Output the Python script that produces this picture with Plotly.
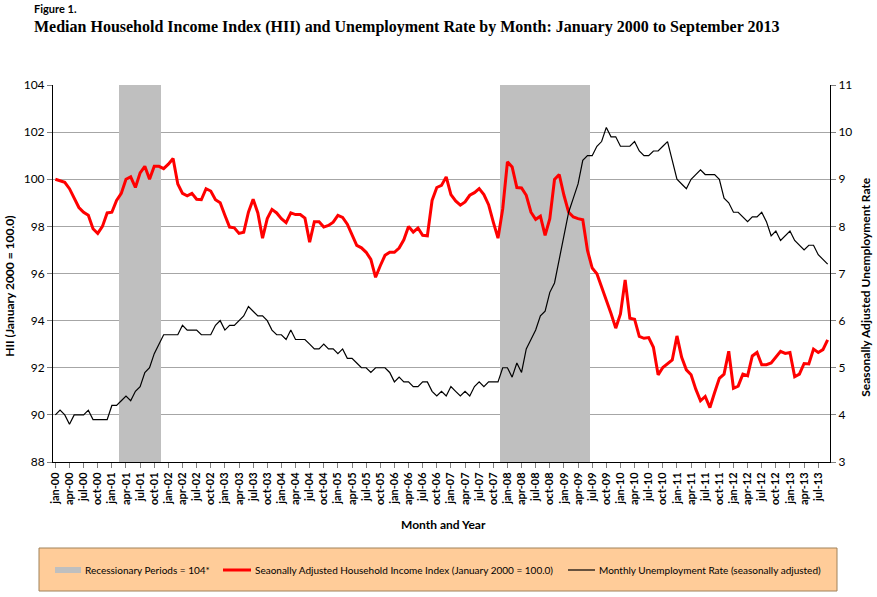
import plotly.graph_objects as go

months = ["jan", "feb", "mar", "apr", "may", "jun", "jul", "aug", "sep", "oct", "nov", "dec"]
labels = [f"{m}-{y:02d}" for y in range(0, 14) for m in months][:165]

hii = [
    100.0, 99.95, 99.87, 99.6, 99.2, 98.8, 98.6, 98.47, 97.9, 97.7, 98.0, 98.57,
    98.6, 99.1, 99.4, 100.0, 100.1, 99.65, 100.27, 100.55, 100.0, 100.55, 100.55, 100.45,
    100.64, 100.88, 99.8, 99.4, 99.3, 99.4, 99.15, 99.13, 99.6, 99.5, 99.13, 99.0,
    98.47, 97.97, 97.94, 97.7, 97.75, 98.6, 99.15, 98.57, 97.5, 98.33, 98.72, 98.57,
    98.33, 98.16, 98.57, 98.5, 98.5, 98.35, 97.33, 98.2, 98.2, 97.97, 98.04, 98.18,
    98.47, 98.38, 98.09, 97.62, 97.19, 97.09, 96.9, 96.6, 95.84, 96.33, 96.77, 96.9,
    96.9, 97.08, 97.43, 98.0, 97.76, 97.93, 97.62, 97.6, 99.1, 99.65, 99.74, 100.1,
    99.35, 99.08, 98.9, 99.04, 99.32, 99.43, 99.6, 99.35, 98.92, 98.18, 97.5, 98.75,
    100.74, 100.52, 99.65, 99.63, 99.32, 98.6, 98.3, 98.43, 97.62, 98.33, 99.99, 100.2,
    99.32, 98.6, 98.4, 98.33, 98.28, 96.98, 96.23, 95.99, 95.45, 94.92, 94.3, 93.68,
    94.28, 95.73, 94.1, 94.06, 93.33, 93.25, 93.28, 92.87, 91.7, 92.01, 92.16, 92.33,
    93.35, 92.44, 91.91, 91.7, 91.09, 90.6, 90.78, 90.31, 90.95, 91.55, 91.73, 92.7,
    91.13, 91.22, 91.73, 91.66, 92.5, 92.65, 92.13, 92.13, 92.2, 92.44, 92.7, 92.61,
    92.65, 91.62, 91.73, 92.18, 92.16, 92.79, 92.65, 92.77, 93.18,
]

unemp = [
    4.0, 4.1, 4.0, 3.8, 4.0, 4.0, 4.0, 4.1, 3.9, 3.9, 3.9, 3.9,
    4.2, 4.2, 4.3, 4.4, 4.3, 4.5, 4.6, 4.9, 5.0, 5.3, 5.5, 5.7,
    5.7, 5.7, 5.7, 5.9, 5.8, 5.8, 5.8, 5.7, 5.7, 5.7, 5.9, 6.0,
    5.8, 5.9, 5.9, 6.0, 6.1, 6.3, 6.2, 6.1, 6.1, 6.0, 5.8, 5.7,
    5.7, 5.6, 5.8, 5.6, 5.6, 5.6, 5.5, 5.4, 5.4, 5.5, 5.4, 5.4,
    5.3, 5.4, 5.2, 5.2, 5.1, 5.0, 5.0, 4.9, 5.0, 5.0, 5.0, 4.9,
    4.7, 4.8, 4.7, 4.7, 4.6, 4.6, 4.7, 4.7, 4.5, 4.4, 4.5, 4.4,
    4.6, 4.5, 4.4, 4.5, 4.4, 4.6, 4.7, 4.6, 4.7, 4.7, 4.7, 5.0,
    5.0, 4.8, 5.1, 4.9, 5.4, 5.6, 5.8, 6.1, 6.2, 6.6, 6.8, 7.3,
    7.8, 8.3, 8.6, 8.9, 9.4, 9.5, 9.5, 9.7, 9.8, 10.1, 9.9, 9.9,
    9.7, 9.7, 9.7, 9.8, 9.6, 9.5, 9.5, 9.6, 9.6, 9.7, 9.8, 9.4,
    9.0, 8.9, 8.8, 9.0, 9.1, 9.2, 9.1, 9.1, 9.1, 9.0, 8.6, 8.5,
    8.3, 8.3, 8.2, 8.1, 8.2, 8.2, 8.3, 8.1, 7.8, 7.9, 7.7, 7.8,
    7.9, 7.7, 7.6, 7.5, 7.6, 7.6, 7.4, 7.3, 7.2,
]

recession_months = labels[14:23] + labels[95:114]
recession_level = 104
y_floor = 88
recession = [recession_level if lab in recession_months else None for lab in labels]

legend_names = [
    "Recessionary Periods = 104*",
    "Seaonally Adjusted Household Income Index (January 2000 = 100.0)",
    "Monthly Unemployment Rate (seasonally adjusted)",
]

idx = list(range(len(labels)))
tick_idx = idx[::3]
tick_text = [f"<b>{t}</b>" for t in labels[::3]]

FONT = "Lato"
L, T, R, B = 53, 85, 830, 462
W, H = R - L, B - T


def px(x):
    return (x - L) / W


def py(y):
    return (B - y) / H


fig = go.Figure()
fig.add_trace(go.Bar(
    x=idx, y=[(v - y_floor) if v else None for v in recession], base=y_floor, width=1.0,
    marker=dict(color="#BFBFBF", line=dict(width=0)),
    name=legend_names[0],
))
fig.add_trace(go.Scatter(
    x=idx, y=hii, mode="lines", line=dict(color="#FF0000", width=3),
    name=legend_names[1],
))
fig.add_trace(go.Scatter(
    x=idx, y=unemp, mode="lines", line=dict(color="#000000", width=1.2),
    name=legend_names[2], yaxis="y2",
))

leg_y = 570
shapes = [
    dict(type="rect", xref="paper", yref="paper", x0=px(39), x1=px(837), y0=py(591), y1=py(548),
         fillcolor="#FFCC99", line=dict(color="#A0825A", width=1), layer="below"),
    dict(type="rect", xref="paper", yref="paper", x0=px(55), x1=px(81), y0=py(573), y1=py(567),
         fillcolor="#BFBFBF", line=dict(width=0)),
    dict(type="line", xref="paper", yref="paper", x0=px(223), x1=px(251), y0=py(leg_y), y1=py(leg_y),
         line=dict(color="#FF0000", width=3)),
    dict(type="line", xref="paper", yref="paper", x0=px(568), x1=px(595), y0=py(leg_y), y1=py(leg_y),
         line=dict(color="#000000", width=1.2)),
]

annotations = [
    dict(text="<b>Figure 1.</b>", xref="paper", yref="paper", x=px(32), y=py(9),
         xanchor="left", yanchor="middle", showarrow=False, font=dict(family=FONT, size=11)),
    dict(text="<b>Median Household Income Index (HII) and Unemployment Rate by Month: January 2000 to September 2013</b>",
         xref="paper", yref="paper", x=px(32), y=py(27),
         xanchor="left", yanchor="middle", showarrow=False,
         font=dict(family="Liberation Serif", size=16)),
    dict(text="<b>Month and Year</b>", xref="paper", yref="paper", x=px(443), y=py(524),
         xanchor="center", yanchor="middle", showarrow=False, font=dict(family=FONT, size=12)),
    dict(text="<b>HII (January 2000 = 100.0)</b>", xref="paper", yref="paper", x=px(10), y=0.465,
         xanchor="center", yanchor="middle", textangle=-90, showarrow=False, font=dict(family=FONT, size=12)),
    dict(text="<b>Seasonally Adjusted Unemployment Rate</b>", xref="paper", yref="paper", x=px(866), y=0.465,
         xanchor="center", yanchor="middle", textangle=-90, showarrow=False, font=dict(family=FONT, size=12)),
]
for name, xs in zip(legend_names, [83, 253, 597]):
    annotations.append(dict(text=name, xref="paper", yref="paper", x=px(xs), y=py(leg_y),
                            xanchor="left", yanchor="middle", showarrow=False,
                            font=dict(family=FONT, size=10, color="black")))

fig.update_layout(
    width=877, height=597,
    margin=dict(l=L, r=877 - R, t=T, b=597 - B),
    paper_bgcolor="white", plot_bgcolor="white",
    font=dict(family=FONT, size=12, color="black"),
    bargap=0,
    showlegend=False,
    xaxis=dict(
        range=[-0.5, 164.5], tickmode="array", tickvals=tick_idx, ticktext=tick_text,
        tickangle=-90, tickfont=dict(size=11, family=FONT, color="black"),
        ticks="outside", ticklen=5, tickcolor="#808080",
        showline=True, linecolor="black", linewidth=1, showgrid=False, zeroline=False,
    ),
    yaxis=dict(
        range=[88, 104], dtick=2, tick0=88, showgrid=True, gridcolor="#A6A6A6", gridwidth=1,
        showline=True, linecolor="black", linewidth=1, ticks="outside", ticklen=5,
        tickcolor="#808080", zeroline=False, tickfont=dict(size=12),
    ),
    yaxis2=dict(
        range=[3, 11], dtick=1, tick0=3, overlaying="y", side="right", showgrid=False,
        showline=True, linecolor="black", linewidth=1, ticks="outside", ticklen=5,
        tickcolor="#808080", zeroline=False, tickfont=dict(size=12),
    ),
    shapes=shapes,
    annotations=annotations,
)

fig.write_html("out.html")
